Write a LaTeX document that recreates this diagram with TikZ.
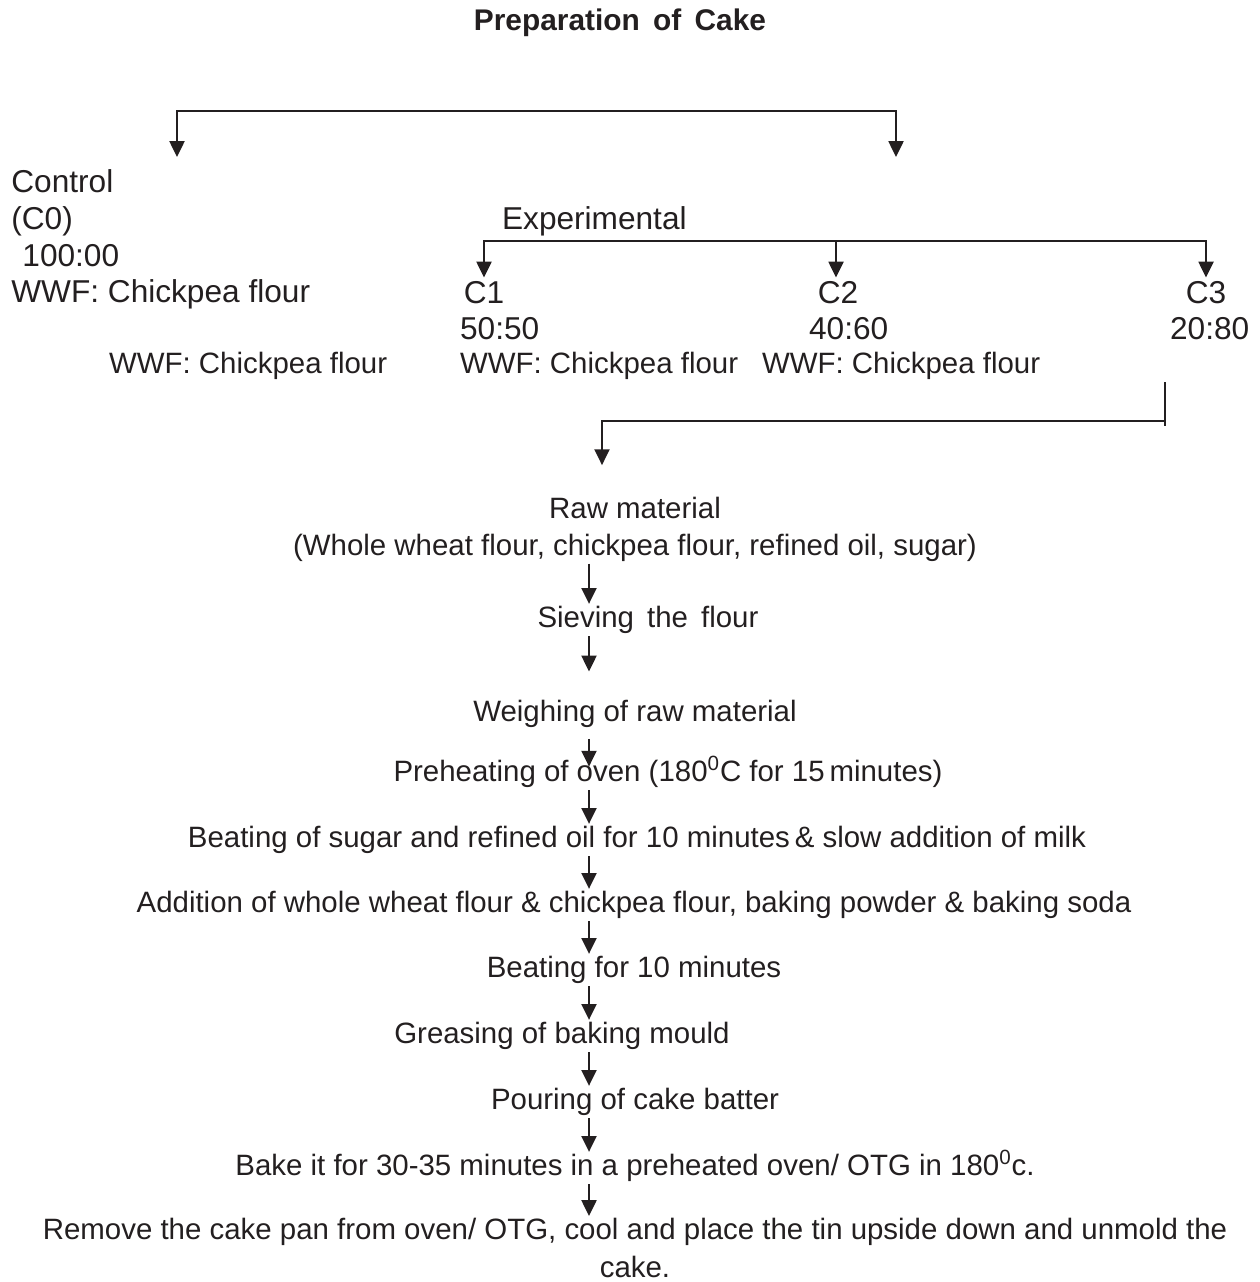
\documentclass[tikz,border=0pt]{standalone}
\usepackage{fontspec}
\setmainfont{Liberation Sans}
\usetikzlibrary{arrows.meta}
\definecolor{ink}{HTML}{231F20}

\tikzset{
  big/.style={font=\fontsize{18}{21}\selectfont, inner sep=1pt, text=ink},
  small/.style={font=\fontsize{16.75}{21}\selectfont, inner sep=1pt, text=ink},
  biglbl/.style={big, text height=13.5pt, text depth=4pt},
  stage/.style={small, text height=12.5pt, text depth=3.5pt},
  link/.style={draw=ink, line width=1.2pt},
  arr/.style={link, -{Triangle[width=8.5pt,length=9pt]}},
  twoarr/.style={link, {Triangle[width=8.5pt,length=9pt]}-{Triangle[width=8.5pt,length=9pt]}},
}

\begin{document}
\begin{tikzpicture}[x=0.02cm, y=-0.02cm]
  \useasboundingbox (0,0) rectangle (1260,1282);

  % title
  \node[font=\fontsize{17}{20}\selectfont\bfseries, text=ink] (title) at (620,23) {Preparation\, of\, Cake};

  % control and experimental branches
  \node[big, inner sep=0pt, align=left, anchor=north west] (ctrl) at (11,169)
    {Control\\(C0)\\\hspace*{0.35em}100:00\\WWF: Chickpea flour};
  \node[stage, anchor=west] (ctrlw) at (107,366) {WWF: Chickpea flour};
  \node[biglbl, anchor=west] (exp) at (500,221) {Experimental};

  \node[biglbl] (c1) at (484,295) {C1};
  \node[biglbl, anchor=west] (c1r) at (458,331) {50:50};
  \node[stage, anchor=west] (c1w) at (458,366) {WWF: Chickpea flour};
  \node[biglbl] (c2) at (838,295) {C2};
  \node[biglbl, anchor=west] (c2r) at (807,331) {40:60};
  \node[stage, anchor=west] (c2w) at (760,366) {WWF: Chickpea flour};
  \node[biglbl] (c3) at (1206,295) {C3};
  \node[biglbl, anchor=west] (c3r) at (1168,331) {20:80};

  \coordinate (splitL) at (177,111);
  \coordinate (splitR) at (896,111);
  \coordinate (ctrlTip) at (177,157);
  \coordinate (expTip) at (896,157);
  \draw[twoarr] (ctrlTip) -- (splitL) -- (splitR) -- (expTip);

  \coordinate (expBar) at (836,241);
  \draw[twoarr] (c1.north) |- (expBar) -| (c3.north);
  \draw[arr] (expBar) -- (expBar |- c2.north);

  % process steps
  \node[small, align=center, anchor=north] (raw) at (635,495)
    {Raw material\\(Whole wheat flour, chickpea flour, refined oil, sugar)};
  \node[stage] (sieve) at (648,620) {Sieving\, the\, flour};
  \node[stage] (weigh) at (635,714) {Weighing of raw material};
  \node[stage] (preheat) at (668,774) {Preheating of oven (180\textsuperscript{0}C for 15\,minutes)};
  \node[stage] (beat) at (637,840) {Beating of sugar and refined oil for 10 minutes\,\& slow addition of milk};
  \node[stage] (add) at (634,905) {Addition of whole wheat flour \& chickpea flour, baking powder \& baking soda};
  \node[stage] (beatb) at (634,970) {Beating for 10 minutes};
  \node[stage] (grease) at (562,1036) {Greasing of baking mould};
  \node[stage] (pour) at (635,1102) {Pouring of cake batter};
  \node[stage] (bake) at (635,1168) {Bake it for 30-35 minutes in a preheated oven/ OTG in 180\textsuperscript{0}c.};
  \node[small, font=\fontsize{16.75}{21.5}\selectfont, align=center, anchor=north] (remove) at (635,1216)
    {Remove the cake pan from oven/ OTG, cool and place the tin upside down and unmold the\\cake.};

  % merge into the process
  \coordinate (mergeTop) at (1165,382);
  \coordinate (mergeR) at (1165,421);
  \coordinate (mergeL) at (602,421);
  \draw[link] (mergeTop) -- (mergeR) -- ++(0,5);
  \draw[arr, shorten >=17pt] (mergeR) -- (mergeL) -- (mergeL |- raw.north);

  \coordinate (col) at (589,0);
  \draw[arr] (raw.south -| col) -- (sieve.north -| col);
  \draw[arr, shorten >=15pt] (sieve.south -| col) -- (weigh.north -| col);
  \draw[arr, shorten <=5pt, shorten >=-5pt] (weigh.south -| col) -- (preheat.north -| col);
  \draw[arr] (preheat.south -| col) -- (beat.north -| col);
  \draw[arr] (beat.south -| col) -- (add.north -| col);
  \draw[arr] (add.south -| col) -- (beatb.north -| col);
  \draw[arr] (beatb.south -| col) -- (grease.north -| col);
  \draw[arr] (grease.south -| col) -- (pour.north -| col);
  \draw[arr] (pour.south -| col) -- (bake.north -| col);
  \draw[arr] (bake.south -| col) -- (remove.north -| col);
\end{tikzpicture}
\end{document}
